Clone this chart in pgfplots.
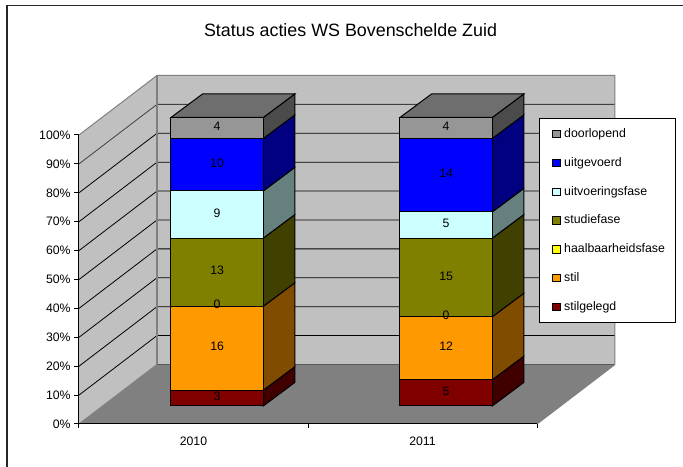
\documentclass[border=0pt]{standalone}
\usepackage{pgfplots}
\pgfplotsset{compat=1.18}
\usepackage{pgfplotstable}
\usepackage{fontspec}
\setmainfont{Liberation Sans}
\definecolor{cGrey}{HTML}{969696}\definecolor{cGreyS}{HTML}{4B4B4B}\definecolor{cTop}{HTML}{6E6E6E}
\definecolor{cBlue}{HTML}{0000FF}\definecolor{cBlueS}{HTML}{000080}
\definecolor{cCyan}{HTML}{CCFFFF}\definecolor{cCyanS}{HTML}{668080}
\definecolor{cOlive}{HTML}{808000}\definecolor{cOliveS}{HTML}{404000}
\definecolor{cYellow}{HTML}{FFFF00}
\definecolor{cOrange}{HTML}{FF9900}\definecolor{cOrangeS}{HTML}{804D00}
\definecolor{cRed}{HTML}{800000}\definecolor{cRedS}{HTML}{400000}
\definecolor{cWall}{HTML}{C0C0C0}\definecolor{cFloor}{HTML}{808080}
\pgfplotstableread{
x a b c d e f g
0.5 3 16 0 13 9 10 4
1.5 5 12 0 15 5 14 4
}\statusdata
\pgfplotstableread{
x y v
0.5 1.5 3
0.5 11 16
0.5 19 0
0.5 25.5 13
0.5 36.5 9
0.5 46 10
0.5 53 4
1.5 2.5 5
1.5 11 12
1.5 17 0
1.5 24.5 15
1.5 34.5 5
1.5 44 14
1.5 53 4
}\labeldata
\begin{document}
\begin{tikzpicture}
\path[use as bounding box] (0,0) rectangle (512.25pt,350.25pt);
\fill[white] (0,0) rectangle (512.25pt,350.25pt);
\draw[black!85,line width=1pt] (5.25pt,0pt) -- (5.25pt,346pt) -- (512.25pt,346pt);
% walls, floor, axis
\begin{axis}[at={(59.25pt,32.25pt)},anchor=south west,scale only axis,width=343.5pt,height=216.75pt,
  xmin=0,xmax=2,ymin=0,ymax=100,clip=false,axis on top,
  axis x line=bottom,axis y line=left,axis line style={-,black,line width=0.75pt},
  xtick={0.5,1.5},xticklabels={2010,2011},minor xtick={0,1,2},
  ytick={0,10,...,100},yticklabel={\pgfmathprintnumber{\tick}\%},
  /pgf/number format/assume math mode=true,
  tick align=outside,major tick length=3.75pt,minor tick length=3pt,
  major x tick style={draw=none},minor x tick style={draw=black,line width=0.75pt},
  y tick style={black,line width=0.75pt},
  x tick label style={font=\fontsize{9.2}{10}\selectfont,yshift=-2.2pt},
  y tick label style={font=\fontsize{9.2}{10}\selectfont,xshift=1pt},
]
\addplot[fill=cFloor,draw=none] coordinates {(0,0) (2,0) (2.3406,20.59) (0.3406,20.59)} -- cycle;
\addplot[fill=cWall,draw=none] coordinates {(0,0) (0.3406,20.59) (0.3406,120.59) (0,100)} -- cycle;
\addplot[fill=cWall,draw=none] coordinates {(0.3406,20.59) (2.3406,20.59) (2.3406,120.59) (0.3406,120.59)} -- cycle;
\addplot[black,line width=0.6pt] coordinates {(0,10) (0.3406,30.59) (2.3406,30.59)};
\addplot[black,line width=0.6pt] coordinates {(0,20) (0.3406,40.59) (2.3406,40.59)};
\addplot[black,line width=0.6pt] coordinates {(0,30) (0.3406,50.59) (2.3406,50.59)};
\addplot[black,line width=0.6pt] coordinates {(0,40) (0.3406,60.59) (2.3406,60.59)};
\addplot[black,line width=0.6pt] coordinates {(0,50) (0.3406,70.59) (2.3406,70.59)};
\addplot[black,line width=0.6pt] coordinates {(0,60) (0.3406,80.59) (2.3406,80.59)};
\addplot[black,line width=0.6pt] coordinates {(0,70) (0.3406,90.59) (2.3406,90.59)};
\addplot[black,line width=0.6pt] coordinates {(0,80) (0.3406,100.59) (2.3406,100.59)};
\addplot[black!75,line width=0.6pt] coordinates {(0,90) (0.3406,110.59) (2.3406,110.59)};
\addplot[cFloor,line width=1pt] coordinates {(0.3406,20.59) (0.3406,120.59)};
\addplot[cFloor,line width=0.75pt] coordinates {(0,100) (0.3406,120.59) (2.3406,120.59) (2.3406,20.59)};
\addplot[cFloor!70!black,line width=0.9pt] coordinates {(0.3406,20.59) (2.3406,20.59)};
\addplot[cFloor,line width=0.75pt] coordinates {(0,0) (0.3406,20.59)};
\addplot[cFloor,line width=0.75pt] coordinates {(2,0) (2.3406,20.59)};
\end{axis}
% depth faces of the bars
\begin{axis}[at={(76.95pt,45.75pt)},anchor=south west,scale only axis,width=343.5pt,height=216.375pt,
  xmin=0,xmax=2,ymin=0,ymax=55,clip=false,hide axis]
\pgfplotsset{every axis plot/.append style={draw=black,line width=0.75pt}}
\addplot[fill=cRedS] coordinates {(0.7015,0) (0.8391,4.48) (0.8391,7.48) (0.7015,3)} -- cycle;
\addplot[fill=cOrangeS] coordinates {(0.7015,3) (0.8391,7.48) (0.8391,23.48) (0.7015,19)} -- cycle;
\addplot[fill=cOliveS] coordinates {(0.7015,19) (0.8391,23.48) (0.8391,36.48) (0.7015,32)} -- cycle;
\addplot[fill=cCyanS] coordinates {(0.7015,32) (0.8391,36.48) (0.8391,45.48) (0.7015,41)} -- cycle;
\addplot[fill=cBlueS] coordinates {(0.7015,41) (0.8391,45.48) (0.8391,55.48) (0.7015,51)} -- cycle;
\addplot[fill=cGreyS] coordinates {(0.7015,51) (0.8391,55.48) (0.8391,59.48) (0.7015,55)} -- cycle;
\addplot[fill=cTop] coordinates {(0.2985,55) (0.7015,55) (0.8391,59.48) (0.4361,59.48)} -- cycle;
\addplot[fill=cRedS] coordinates {(1.7015,0) (1.8391,4.48) (1.8391,9.48) (1.7015,5)} -- cycle;
\addplot[fill=cOrangeS] coordinates {(1.7015,5) (1.8391,9.48) (1.8391,21.48) (1.7015,17)} -- cycle;
\addplot[fill=cOliveS] coordinates {(1.7015,17) (1.8391,21.48) (1.8391,36.48) (1.7015,32)} -- cycle;
\addplot[fill=cCyanS] coordinates {(1.7015,32) (1.8391,36.48) (1.8391,41.48) (1.7015,37)} -- cycle;
\addplot[fill=cBlueS] coordinates {(1.7015,37) (1.8391,41.48) (1.8391,55.48) (1.7015,51)} -- cycle;
\addplot[fill=cGreyS] coordinates {(1.7015,51) (1.8391,55.48) (1.8391,59.48) (1.7015,55)} -- cycle;
\addplot[fill=cTop] coordinates {(1.2985,55) (1.7015,55) (1.8391,59.48) (1.4361,59.48)} -- cycle;
\end{axis}
% stacked bars
\begin{axis}[at={(76.95pt,45.75pt)},anchor=south west,scale only axis,width=343.5pt,height=216.375pt,
  xmin=0,xmax=2,ymin=0,ymax=55,clip=false,hide axis,
  ybar stacked,bar width=69.2pt,
  reverse legend,
  legend image code/.code={\path (0pt,0pt); \draw[#1,line width=0.75pt] (4.7pt,-2.8pt) rectangle (10.3pt,2.8pt);},
  legend style={at={(0.9528,0.9972)},anchor=north west,draw=black,line width=0.75pt,fill=white,
    font=\fontsize{9.25}{10}\selectfont,row sep=12.6pt,inner xsep=5pt,inner ysep=7pt,
    nodes={inner xsep=2.5pt,inner ysep=0pt,text height=7pt,text depth=2pt}},
  legend cell align=left,
]
\addplot[fill=cRed,draw=black,line width=0.75pt] table[x=x,y=a] {\statusdata};
\addplot[fill=cOrange,draw=black,line width=0.75pt] table[x=x,y=b] {\statusdata};
\addplot[fill=cYellow,draw=black,line width=0.75pt] table[x=x,y=c] {\statusdata};
\addplot[fill=cOlive,draw=black,line width=0.75pt] table[x=x,y=d] {\statusdata};
\addplot[fill=cCyan,draw=black,line width=0.75pt] table[x=x,y=e] {\statusdata};
\addplot[fill=cBlue,draw=black,line width=0.75pt] table[x=x,y=f] {\statusdata};
\addplot[fill=cGrey,draw=black,line width=0.75pt] table[x=x,y=g] {\statusdata};
\legend{stilgelegd,stil,haalbaarheidsfase,studiefase,uitvoeringsfase,uitgevoerd,doorlopend}
\end{axis}
% value labels, on top of every bar
\begin{axis}[at={(76.95pt,45.75pt)},anchor=south west,scale only axis,width=343.5pt,height=216.375pt,
  xmin=0,xmax=2,ymin=0,ymax=55,clip=false,hide axis,
  /pgf/number format/assume math mode=true]
\addplot[draw=none,mark=none,point meta=explicit,nodes near coords,
  every node near coord/.append style={font=\fontsize{9.2}{10}\selectfont,text=black,anchor=center,yshift=1.2pt,inner sep=0pt}]
  table[x=x,y=y,meta=v] {\labeldata};
\end{axis}
\node[font=\fontsize{13.4}{15}\selectfont,text=black,anchor=center] at (262.9pt,327.5pt) {Status acties WS Bovenschelde Zuid};
\end{tikzpicture}
\end{document}
